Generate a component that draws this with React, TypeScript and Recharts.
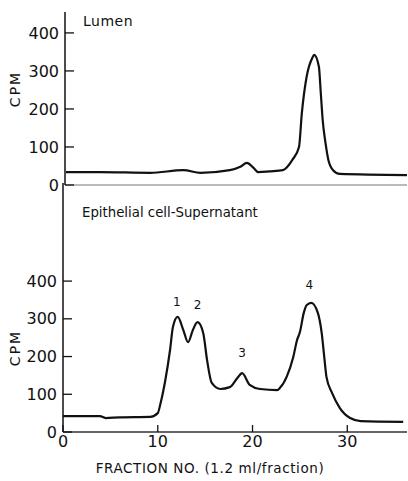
import { LineChart, Line, XAxis, YAxis, ReferenceDot } from 'recharts';

// Lumen panel
const topFractions = [0.1, 3.7, 9.0, 12.5, 14.3, 17.4, 18.5, 19.2, 19.9, 20.4, 21.6, 23.0, 24.0, 24.7, 25.0, 25.5, 26.1, 26.3, 26.8, 27.0, 27.2, 27.5, 27.8, 28.3, 29.0, 36.1];
const topCpm = [34, 34, 32, 39, 32, 39, 48, 58, 45, 34, 36, 39, 66, 100, 189, 284, 334, 342, 311, 242, 171, 110, 66, 39, 29, 26];

// Epithelial cell - supernatant panel
const bottomFractions = [0, 3.9, 4.5, 6.0, 9.2, 10.0, 10.3, 10.8, 11.3, 11.6, 12.1, 12.7, 13.2, 13.7, 14.2, 14.8, 15.2, 15.7, 16.6, 17.6, 18.4, 18.9, 19.7, 20.8, 22.6, 22.9, 23.6, 24.3, 24.7, 25.0, 25.4, 25.7, 26.2, 26.9, 27.3, 27.6, 27.8, 28.4, 29.2, 30.3, 31.4, 35.9];
const bottomCpm = [42, 42, 37, 39, 40, 50, 77, 138, 218, 278, 305, 270, 238, 270, 291, 262, 191, 130, 114, 119, 143, 156, 125, 114, 111, 117, 146, 199, 244, 265, 315, 336, 342, 315, 262, 191, 146, 103, 64, 37, 29, 27];

const peakNames = ['1', '2', '3', '4'];
const peakFractions = [12.0, 14.2, 18.9, 26.0];
const peakLabelCpm = [344, 336, 209, 390];

const yTicks = [0, 100, 200, 300, 400];
const xTicks = [0, 10, 20, 30];

const topData = topFractions.map((f, i) => ({ fraction: f, cpm: topCpm[i] }));
const bottomData = bottomFractions.map((f, i) => ({ fraction: f, cpm: bottomCpm[i] }));

const font = '"DejaVu Sans", sans-serif';
const tickStyle = { fontSize: 16, fill: '#111', fontFamily: font };

const textStyle: React.CSSProperties = {
  position: 'absolute',
  fontFamily: font,
  color: '#111',
  whiteSpace: 'nowrap',
};

export default function App() {
  return (
    <div style={{ position: 'absolute', left: 0, top: 0, width: 408, height: 481, background: '#fff' }}>
      <div style={{ position: 'absolute', left: 0, top: 0 }}>
        <LineChart width={408} height={200} data={topData} margin={{ top: 12, right: 1, left: 0, bottom: 0 }}>
          <XAxis
            dataKey="fraction"
            type="number"
            domain={[0, 36.1]}
            tick={false}
            tickLine={false}
            height={15}
            axisLine={{ stroke: '#777', strokeWidth: 1 }}
          />
          <YAxis
            type="number"
            domain={[0, 455]}
            ticks={yTicks}
            interval={0}
            width={65}
            tickSize={-9}
            tickMargin={15}
            tick={tickStyle}
            tickLine={{ stroke: '#111', strokeWidth: 1.3 }}
            axisLine={{ stroke: '#111', strokeWidth: 1.5 }}
            allowDataOverflow
          />
          <Line
            type="monotone"
            dataKey="cpm"
            stroke="#111"
            strokeWidth={2.2}
            dot={false}
            isAnimationActive={false}
          />
        </LineChart>
      </div>
      <div style={{ position: 'absolute', left: 0, top: 0 }}>
        <LineChart width={408} height={481} data={bottomData} margin={{ top: 183, right: 1, left: 0, bottom: 0 }}>
          <XAxis
            dataKey="fraction"
            type="number"
            domain={[0, 36.3]}
            ticks={xTicks}
            interval={0}
            height={49}
            tickSize={-7}
            tickMargin={11}
            tick={tickStyle}
            tickLine={{ stroke: '#111', strokeWidth: 1.3 }}
            axisLine={{ stroke: '#333', strokeWidth: 1.4 }}
          />
          <YAxis
            type="number"
            domain={[0, 660]}
            ticks={yTicks}
            interval={0}
            width={63}
            tickSize={-9}
            tickMargin={15}
            tick={tickStyle}
            tickLine={{ stroke: '#111', strokeWidth: 1.3 }}
            axisLine={{ stroke: '#111', strokeWidth: 1.5 }}
            allowDataOverflow
          />
          <Line
            type="monotone"
            dataKey="cpm"
            stroke="#111"
            strokeWidth={2.2}
            dot={false}
            isAnimationActive={false}
          />
          {peakNames.map((name, i) => (
            <ReferenceDot
              key={name}
              x={peakFractions[i]}
              y={peakLabelCpm[i]}
              r={0}
              fill="none"
              stroke="none"
              label={{ value: name, position: 'center', fontSize: 12, fill: '#111', fontFamily: font }}
            />
          ))}
        </LineChart>
      </div>
      <div style={{ ...textStyle, left: 83, top: 13, fontSize: 14, letterSpacing: 0.5 }}>Lumen</div>
      <div style={{ ...textStyle, left: 82, top: 205, fontSize: 13.3 }}>Epithelial cell-Supernatant</div>
      <div style={{ ...textStyle, left: 15, top: 89, fontSize: 14, letterSpacing: 2, transform: 'translate(-50%, -50%) rotate(-90deg)' }}>CPM</div>
      <div style={{ ...textStyle, left: 15, top: 348, fontSize: 14, letterSpacing: 2, transform: 'translate(-50%, -50%) rotate(-90deg)' }}>CPM</div>
      <div style={{ ...textStyle, left: 210, top: 468, fontSize: 13.5, letterSpacing: 0.6, transform: 'translate(-50%, -50%)' }}>
        FRACTION NO. (1.2 ml/fraction)
      </div>
    </div>
  );
}
